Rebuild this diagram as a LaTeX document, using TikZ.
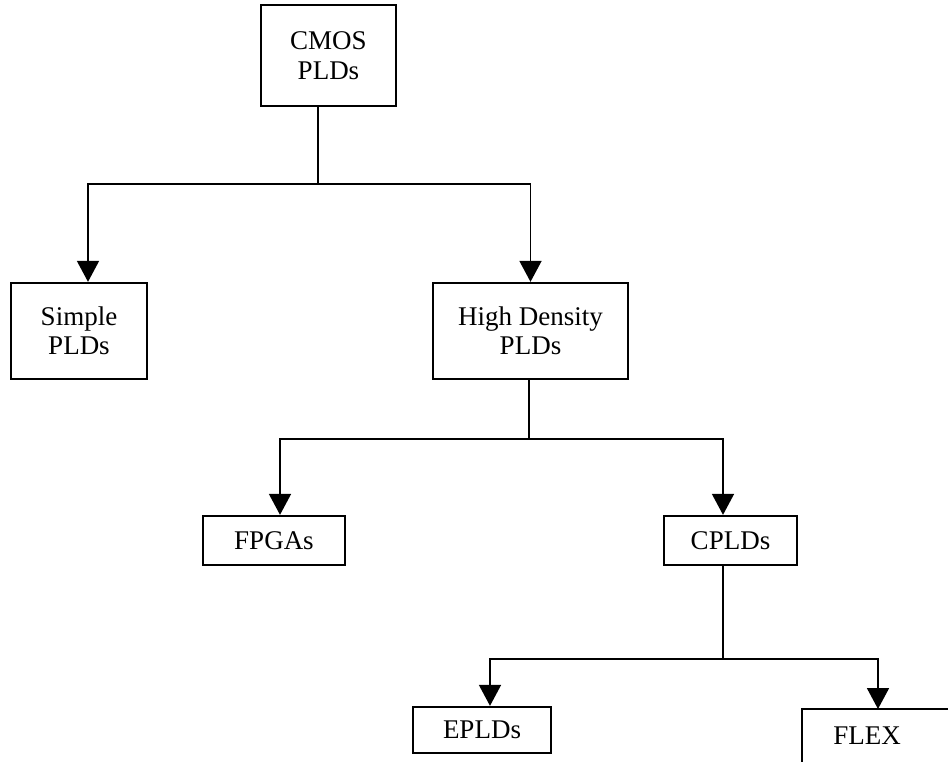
\documentclass[tikz,border=0pt]{standalone}
\usepackage{fontspec}
\setmainfont{Liberation Serif}
\usetikzlibrary{arrows.meta}
\begin{document}
\begin{tikzpicture}[x=1pt,y=-1pt,
  box/.style={draw, line width=2.3pt, align=center, inner sep=0pt,
    font=\fontsize{27}{29.5}\selectfont},
  link/.style={line width=1.8pt},
  arr/.style={link, -{Triangle[width=22pt,length=21pt]}}]
\useasboundingbox (0,0) rectangle (948,762);
\clip (0,0) rectangle (948,762);

% boxes of the classification tree
\node[box, minimum width=135pt, minimum height=101pt] (cmos)   at (328.5,55.5) {CMOS\\PLDs};
\node[box, minimum width=136pt, minimum height=96pt]  (simple) at (79,331)    {Simple\\PLDs};
\node[box, minimum width=195pt, minimum height=96pt]  (hd)     at (530.5,331) {High Density\\PLDs};
\node[box, minimum width=142pt, minimum height=49pt]  (fpga)   at (274,540.5) {FPGAs};
\node[box, minimum width=133pt, minimum height=49pt]  (cpld)   at (730.5,540.5) {CPLDs};
\node[box, minimum width=138pt, minimum height=46pt]  (epld)   at (482,730)   {EPLDs};
\node[box, draw=none] (flex) at (867,736) {FLEX};
% the FLEX box runs off the right and bottom edges
\coordinate (flexcorner) at (802,709);
\draw[line width=2.3pt] (flexcorner) ++(0,70) -- (flexcorner) -- ++(160,0);
\coordinate (flextop) at (878,709);

% level 1
\coordinate (j1) at (318,184);
\draw[link] (cmos.south -| j1) -- (j1);
\draw[arr] (j1) -| ([xshift=9pt]simple.north);
\draw[arr] (j1) -| (hd.north);

% level 2
\draw[link] ([xshift=-1.5pt]hd.south) -- ++(0,59) coordinate (j2);
\draw[arr] (j2) -| ([xshift=6pt]fpga.north);
\draw[arr] (j2) -| ([xshift=-7.5pt]cpld.north);

% level 3
\draw[link] ([xshift=-7.5pt]cpld.south) -- ++(0,93) coordinate (j3);
\draw[arr] (j3) -| ([xshift=8pt]epld.north);
\draw[arr] (j3) -| (flextop);
\end{tikzpicture}
\end{document}
